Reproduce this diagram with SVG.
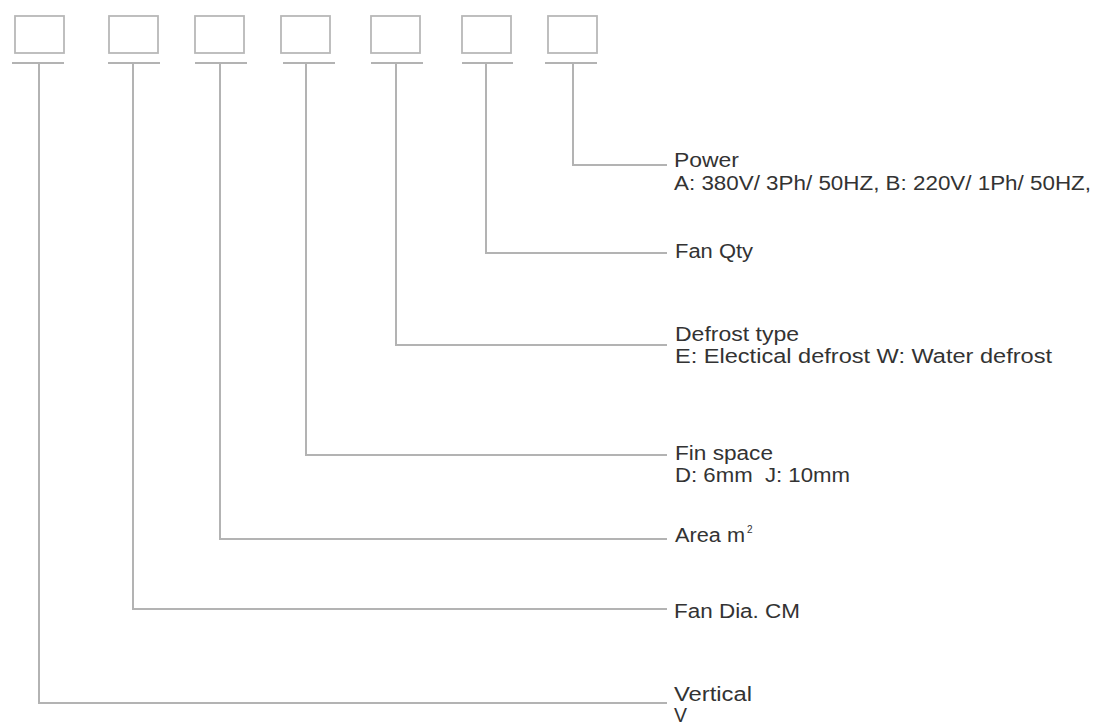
<svg xmlns="http://www.w3.org/2000/svg" width="1104" height="723" viewBox="0 0 1104 723">
<style>
.box{fill:#fff;stroke:#b8b8b8;stroke-width:1.8}
.ul{stroke:#b3b3b3;stroke-width:2.2;fill:none}
.con{stroke:#b3b3b3;stroke-width:2;fill:none}
.t{font-family:"Liberation Sans",Arial,sans-serif;font-size:19.5px;fill:#333333}
.sup{font-family:"Liberation Sans",Arial,sans-serif;font-size:10px;fill:#333333}
</style>
<rect width="1104" height="723" fill="#fff"/>
<g id="code-boxes">
<g id="box1"><rect class="box" x="15" y="16" width="49" height="37"/><line class="ul" x1="12" y1="63" x2="64" y2="63"/></g>
<g id="box2"><rect class="box" x="109" y="16" width="49" height="37"/><line class="ul" x1="108" y1="63" x2="160" y2="63"/></g>
<g id="box3"><rect class="box" x="195" y="16" width="49" height="37"/><line class="ul" x1="195" y1="63" x2="247" y2="63"/></g>
<g id="box4"><rect class="box" x="281" y="16" width="49" height="37"/><line class="ul" x1="283" y1="63" x2="335" y2="63"/></g>
<g id="box5"><rect class="box" x="371" y="16" width="49" height="37"/><line class="ul" x1="371" y1="63" x2="423" y2="63"/></g>
<g id="box6"><rect class="box" x="462" y="16" width="49" height="37"/><line class="ul" x1="462" y1="63" x2="513" y2="63"/></g>
<g id="box7"><rect class="box" x="548" y="16" width="49" height="37"/><line class="ul" x1="545" y1="63" x2="597" y2="63"/></g>
</g>
<g id="connectors">
<polyline class="con" points="573,63 573,165 667,165"/>
<polyline class="con" points="486,63 486,253 667,253"/>
<polyline class="con" points="396,63 396,345 667,345"/>
<polyline class="con" points="306,63 306,455 667,455"/>
<polyline class="con" points="220,63 220,539 667,539"/>
<polyline class="con" points="133,63 133,609 667,609"/>
<polyline class="con" points="39,63 39,703 667,703"/>
</g>
<g id="label-power">
<text class="t" x="674" y="167" textLength="65" lengthAdjust="spacingAndGlyphs">Power</text>
<text class="t" x="674" y="190" textLength="417" lengthAdjust="spacingAndGlyphs">A: 380V/ 3Ph/ 50HZ, B: 220V/ 1Ph/ 50HZ,</text>
</g>
<g id="label-fanqty">
<text class="t" x="675" y="258" textLength="78" lengthAdjust="spacingAndGlyphs">Fan Qty</text>
</g>
<g id="label-defrost">
<text class="t" x="675" y="341" textLength="124" lengthAdjust="spacingAndGlyphs">Defrost type</text>
<text class="t" x="675" y="363" textLength="377" lengthAdjust="spacingAndGlyphs">E: Electical defrost W: Water defrost</text>
</g>
<g id="label-fin">
<text class="t" x="675" y="460" textLength="98" lengthAdjust="spacingAndGlyphs">Fin space</text>
<text class="t" x="675" y="482" textLength="175" lengthAdjust="spacingAndGlyphs" xml:space="preserve">D: 6mm  J: 10mm</text>
</g>
<g id="label-area">
<text class="t" x="675" y="542" textLength="70" lengthAdjust="spacingAndGlyphs">Area m</text>
<text class="sup" x="747" y="533">2</text>
</g>
<g id="label-fandia">
<text class="t" x="674" y="618" textLength="126" lengthAdjust="spacingAndGlyphs">Fan Dia. CM</text>
</g>
<g id="label-vertical">
<text class="t" x="674" y="701" textLength="78" lengthAdjust="spacingAndGlyphs">Vertical</text>
<text class="t" x="674" y="722">V</text>
</g>
</svg>
